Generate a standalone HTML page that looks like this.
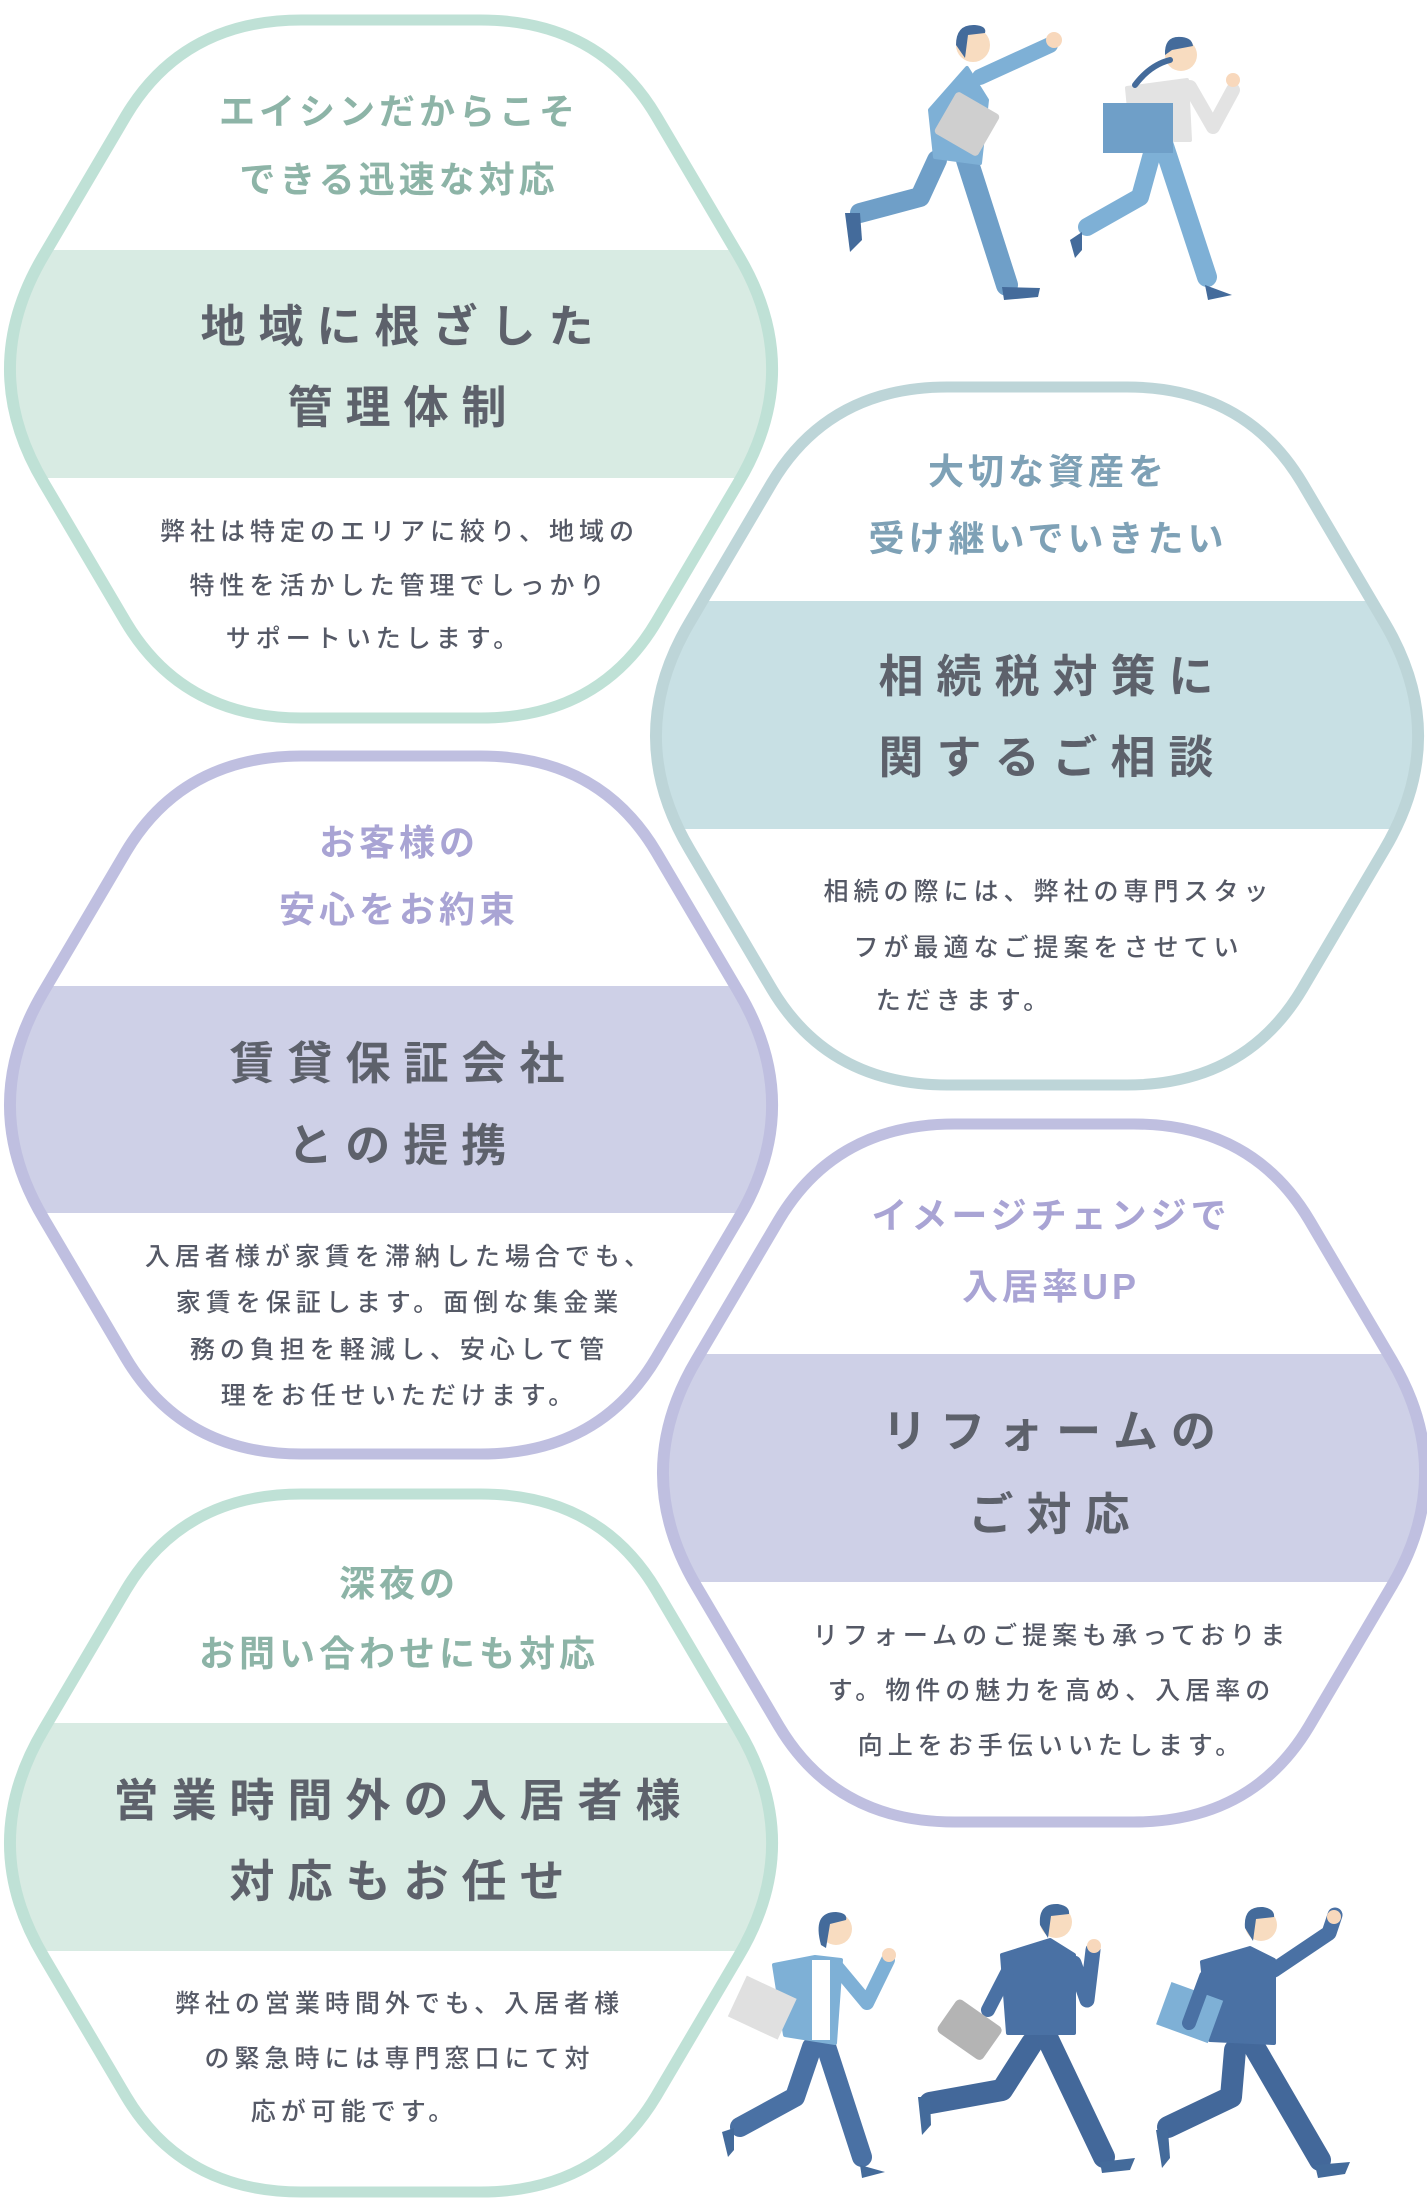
<!DOCTYPE html>
<html><head><meta charset="utf-8"><style>
html,body{margin:0;padding:0;background:#fff}
body{width:1427px;height:2202px;position:relative;overflow:hidden;font-family:"Liberation Sans","Noto Sans CJK JP",sans-serif}
svg{position:absolute;left:0;top:0}
.t{position:absolute;width:700px;text-align:center;white-space:nowrap;line-height:1}
.s{font-size:36px;letter-spacing:4px;text-indent:4px;font-weight:bold}
.h{font-size:45px;letter-spacing:13px;text-indent:13px;font-weight:bold;color:#5d616b}
.b{font-size:25px;letter-spacing:5px;text-indent:5px;color:#555966;font-weight:500}
.g{color:#8db4a7}.bl{color:#7ea1b6}.p{color:#a9a4d4}
</style></head><body>
<svg width="1427" height="2202" viewBox="0 0 1427 2202">
<defs>
<clipPath id="hx" clipPathUnits="userSpaceOnUse"><path d="M302,0 L468,0 Q578,0 631,96 L707,235 Q770,349 707,463 L631,602 Q578,698 468,698 L302,698 Q192,698 139,602 L63,463 Q0,349 63,235 L139,96 Q192,0 302,0 Z"/></clipPath>
<path id="hp" d="M302,0 L468,0 Q578,0 631,96 L707,235 Q770,349 707,463 L631,602 Q578,698 468,698 L302,698 Q192,698 139,602 L63,463 Q0,349 63,235 L139,96 Q192,0 302,0 Z"/>
</defs>
<g transform="translate(-24,20) scale(1.078,1)"><rect x="0" y="230" width="770" height="228" fill="#d8ebe3" clip-path="url(#hx)"/><use href="#hp" fill="none" stroke="#bfe1d6" stroke-width="11" vector-effect="non-scaling-stroke"/></g>
<g transform="translate(622,387) scale(1.078,1)"><rect x="0" y="214" width="770" height="228" fill="#c8e0e4" clip-path="url(#hx)"/><use href="#hp" fill="none" stroke="#bdd5d8" stroke-width="11" vector-effect="non-scaling-stroke"/></g>
<g transform="translate(-24,756) scale(1.078,1)"><rect x="0" y="230" width="770" height="227" fill="#ced0e7" clip-path="url(#hx)"/><use href="#hp" fill="none" stroke="#bfbfe0" stroke-width="11" vector-effect="non-scaling-stroke"/></g>
<g transform="translate(629,1124) scale(1.078,1)"><rect x="0" y="230" width="770" height="228" fill="#ced0e7" clip-path="url(#hx)"/><use href="#hp" fill="none" stroke="#bfbfe0" stroke-width="11" vector-effect="non-scaling-stroke"/></g>
<g transform="translate(-24,1494) scale(1.078,1)"><rect x="0" y="229" width="770" height="228" fill="#d8ebe3" clip-path="url(#hx)"/><use href="#hp" fill="none" stroke="#bfe1d6" stroke-width="11" vector-effect="non-scaling-stroke"/></g>

<g stroke-linecap="round" stroke-linejoin="round" fill="none">
<polyline points="937,160 920,197 860,213" stroke="#6f9fc8" stroke-width="20"/>
<line x1="967" y1="160" x2="1007" y2="285" stroke="#6f9fc8" stroke-width="22"/>
<path d="M845,213 L860,213 L862,240 L850,252 Z" fill="#446b9b"/>
<path d="M1002,287 L1040,288 L1038,297 L1004,300 Z" fill="#446b9b"/>
<line x1="980" y1="77" x2="1050" y2="45" stroke="#7eb0d6" stroke-width="16"/>
<circle cx="1054" cy="40" r="8" fill="#f8d8bc" stroke="none"/>
<path d="M930,110 L967,68 L987,100 L980,163 L935,157 Z" fill="#7eb0d6" stroke="#7eb0d6" stroke-width="4"/>
<rect x="942" y="100" width="50" height="48" rx="4" fill="#cfcfcf" stroke="none" transform="rotate(30 967 124)"/>
<circle cx="973" cy="45" r="17" fill="#f8dcc0" stroke="none"/>
<path d="M956,45 Q956,24 975,25 Q987,26 985,33 L968,35 L965,58 Z" fill="#446b9b" stroke="none"/>
<polyline points="1153,150 1140,197 1087,227" stroke="#7eb0d6" stroke-width="18"/>
<line x1="1163" y1="143" x2="1207" y2="277" stroke="#7eb0d6" stroke-width="20"/>
<path d="M1070,240 L1082,232 L1082,250 L1075,258 Z" fill="#446b9b"/>
<path d="M1205,285 L1232,295 L1208,300 Z" fill="#446b9b"/>
<polyline points="1190,87 1213,127 1233,90" stroke="#e3e3e3" stroke-width="14"/>
<circle cx="1233" cy="80" r="7" fill="#f8d8bc" stroke="none"/>
<path d="M1127,88 L1187,80 L1190,140 L1132,140 Z" fill="#e3e3e3" stroke="#e3e3e3" stroke-width="4"/>
<rect x="1103" y="103" width="70" height="50" fill="#6f9fc8" stroke="none"/>
<circle cx="1181" cy="55" r="16" fill="#f8dcc0" stroke="none"/>
<path d="M1165,55 Q1164,35 1182,37 Q1192,38 1193,46 L1172,50 Z" fill="#446b9b" stroke="none"/>
<path d="M1170,60 Q1150,65 1135,85" stroke="#446b9b" stroke-width="6"/>
<polyline points="812,2047 795,2097 740,2127" stroke="#4a71a4" stroke-width="20"/>
<line x1="824" y1="2040" x2="862" y2="2157" stroke="#4a71a4" stroke-width="20"/>
<path d="M722,2132 L734,2128 L734,2150 L728,2157 Z" fill="#446b9b"/>
<path d="M860,2165 L885,2172 L862,2178 Z" fill="#446b9b"/>
<polyline points="837,1967 867,2003 888,1960" stroke="#7eb0d6" stroke-width="14"/>
<circle cx="889" cy="1955" r="7" fill="#f8d8bc" stroke="none"/>
<path d="M774,1965 L815,1957 L841,1960 L835,2043 L785,2035 Z" fill="#7eb0d6" stroke="#7eb0d6" stroke-width="4"/>
<rect x="812" y="1960" width="18" height="80" fill="#fff" stroke="none"/>
<rect x="735" y="1985" width="55" height="45" fill="#e0e0e0" stroke="none" transform="rotate(25 762 2007)"/>
<circle cx="836" cy="1929" r="16" fill="#f8dcc0" stroke="none"/>
<path d="M821,1945 Q812,1912 836,1912 Q848,1913 846,1920 L830,1924 L826,1948 Z" fill="#446b9b" stroke="none"/>
<polyline points="1032,2043 1002,2090 930,2103" stroke="#43689a" stroke-width="22"/>
<line x1="1045" y1="2033" x2="1104" y2="2157" stroke="#43689a" stroke-width="22"/>
<path d="M918,2097 L930,2097 L931,2125 L922,2135 Z" fill="#446b9b"/>
<path d="M1100,2162 L1135,2158 L1130,2170 L1102,2173 Z" fill="#446b9b"/>
<polyline points="1074,1963 1087,2000 1093,1950" stroke="#4a71a4" stroke-width="15"/>
<circle cx="1094" cy="1946" r="7" fill="#f8d8bc" stroke="none"/>
<path d="M1002,1955 L1050,1940 L1074,1955 L1074,2033 L1008,2033 Z" fill="#4a71a4" stroke="#4a71a4" stroke-width="4"/>
<line x1="1007" y1="1973" x2="988" y2="2010" stroke="#4a71a4" stroke-width="14"/>
<rect x="942" y="2010" width="55" height="40" rx="5" fill="#b4b4b4" stroke="none" transform="rotate(35 970 2030)"/>
<circle cx="1056" cy="1922" r="16" fill="#f8dcc0" stroke="none"/>
<path d="M1040,1925 Q1038,1903 1058,1904 Q1070,1906 1069,1914 L1051,1916 L1048,1938 Z" fill="#446b9b" stroke="none"/>
<polyline points="1235,2050 1231,2097 1168,2127" stroke="#43689a" stroke-width="22"/>
<line x1="1252" y1="2043" x2="1320" y2="2160" stroke="#43689a" stroke-width="22"/>
<path d="M1156,2130 L1168,2130 L1170,2158 L1162,2168 Z" fill="#446b9b"/>
<path d="M1315,2165 L1350,2162 L1345,2174 L1318,2178 Z" fill="#446b9b"/>
<polyline points="1274,1970 1329,1933 1335,1915" stroke="#4a71a4" stroke-width="15"/>
<circle cx="1334" cy="1917" r="7" fill="#f8d8bc" stroke="none"/>
<path d="M1202,1962 L1250,1948 L1274,1960 L1274,2043 L1210,2040 Z" fill="#4a71a4" stroke="#4a71a4" stroke-width="4"/>
<rect x="1163" y="1990" width="55" height="45" fill="#7eb0d6" stroke="none" transform="rotate(20 1190 2010)"/>
<line x1="1206" y1="1977" x2="1189" y2="2023" stroke="#4a71a4" stroke-width="14"/>
<circle cx="1261" cy="1925" r="16" fill="#f8dcc0" stroke="none"/>
<path d="M1245,1928 Q1243,1906 1263,1907 Q1275,1909 1274,1917 L1256,1919 L1253,1941 Z" fill="#446b9b" stroke="none"/>
</g>
</svg>

<div class="t s g" style="left:47px;top:94px">エイシンだからこそ</div>
<div class="t s g" style="left:47px;top:162px">できる迅速な対応</div>
<div class="t h" style="left:47px;top:304px">地域に根ざした</div>
<div class="t h" style="left:47px;top:385px">管理体制</div>
<div class="t b" style="left:47px;top:520px">弊社は特定のエリアに絞り、地域の</div>
<div class="t b" style="left:47px;top:574px">特性を活かした管理でしっかり</div>
<div class="t b" style="left:22px;top:627px">サポートいたします。</div>

<div class="t s bl" style="left:696px;top:454px">大切な資産を</div>
<div class="t s bl" style="left:696px;top:521px">受け継いでいきたい</div>
<div class="t h" style="left:696px;top:654px">相続税対策に</div>
<div class="t h" style="left:696px;top:735px">関するご相談</div>
<div class="t b" style="left:696px;top:880px">相続の際には、弊社の専門スタッ</div>
<div class="t b" style="left:696px;top:936px">フが最適なご提案をさせてい</div>
<div class="t b" style="left:612px;top:989px">ただきます。</div>

<div class="t s p" style="left:47px;top:825px">お客様の</div>
<div class="t s p" style="left:47px;top:892px">安心をお約束</div>
<div class="t h" style="left:47px;top:1041px">賃貸保証会社</div>
<div class="t h" style="left:47px;top:1123px">との提携</div>
<div class="t b" style="left:47px;top:1245px">入居者様が家賃を滞納した場合でも、</div>
<div class="t b" style="left:47px;top:1291px">家賃を保証します。面倒な集金業</div>
<div class="t b" style="left:47px;top:1338px">務の負担を軽減し、安心して管</div>
<div class="t b" style="left:47px;top:1384px">理をお任せいただけます。</div>

<div class="t s p" style="left:699px;top:1198px">イメージチェンジで</div>
<div class="t s p" style="left:699px;top:1269px">入居率UP</div>
<div class="t h" style="left:699px;top:1409px">リフォームの</div>
<div class="t h" style="left:699px;top:1492px">ご対応</div>
<div class="t b" style="left:699px;top:1624px">リフォームのご提案も承っておりま</div>
<div class="t b" style="left:699px;top:1679px">す。物件の魅力を高め、入居率の</div>
<div class="t b" style="left:699px;top:1734px">向上をお手伝いいたします。</div>

<div class="t s g" style="left:47px;top:1566px">深夜の</div>
<div class="t s g" style="left:47px;top:1636px">お問い合わせにも対応</div>
<div class="t h" style="left:47px;top:1778px">営業時間外の入居者様</div>
<div class="t h" style="left:47px;top:1859px">対応もお任せ</div>
<div class="t b" style="left:47px;top:1992px">弊社の営業時間外でも、入居者様</div>
<div class="t b" style="left:47px;top:2047px">の緊急時には専門窓口にて対</div>
<div class="t b" style="left:2px;top:2100px">応が可能です。</div>
</body></html>
